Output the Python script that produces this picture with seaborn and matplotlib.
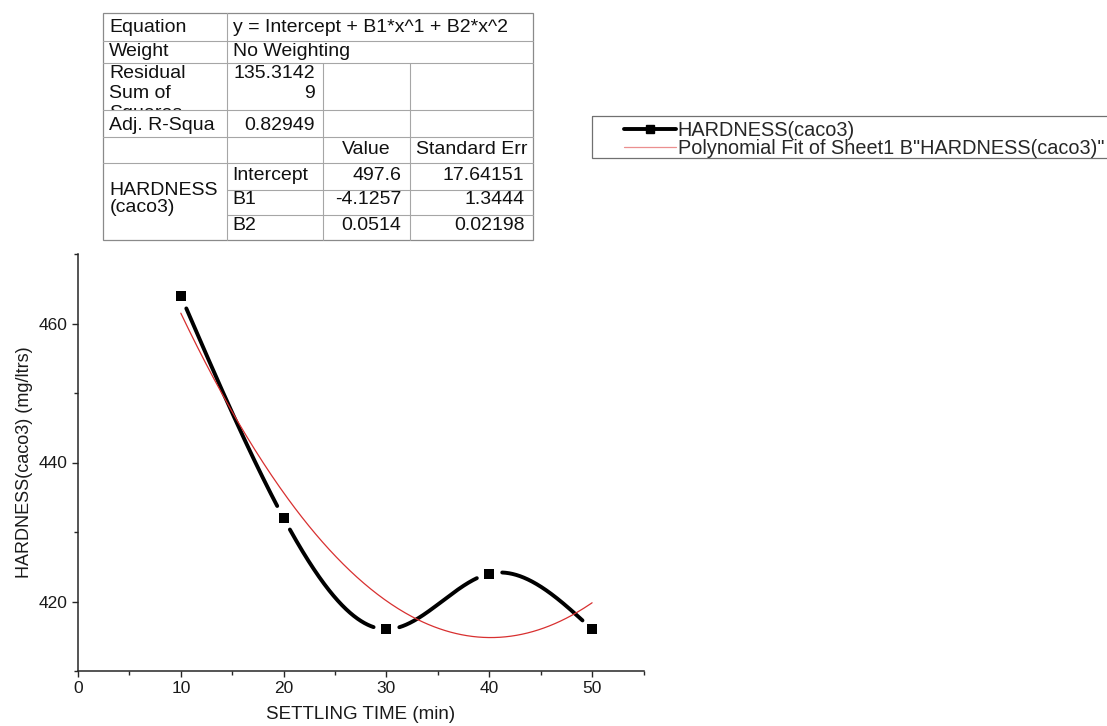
import numpy as np
import pandas as pd
import seaborn as sns
import matplotlib
matplotlib.use("Agg")
import matplotlib.pyplot as plt
from matplotlib.ticker import MultipleLocator
from matplotlib.lines import Line2D
from matplotlib.patches import Rectangle
from matplotlib.transforms import Bbox

# ---- measured data ----
settling_time = [10, 20, 30, 40, 50]
hardness = [464, 432, 416, 424, 416]

# ---- quadratic fit report ----
equation_text = "y = Intercept + B1*x^1 + B2*x^2"
weight_text = "No Weighting"
rss_text = "135.3142\n9"
adj_r2_text = "0.82949"
param_names = ["Intercept", "B1", "B2"]
param_values = [497.6, -4.1257, 0.0514]
param_errors = [17.64151, 1.3444, 0.02198]

series_label = "HARDNESS(caco3)"
fit_label = 'Polynomial Fit of Sheet1 B"HARDNESS(caco3)"'

sns.set_style("ticks")
plt.rcParams["font.family"] = ["Liberation Sans", "DejaVu Sans"]

W, H = 1107, 726
fig = plt.figure(figsize=(W / 100, H / 100), dpi=100)

# main plot area (pixel box 78..643.5 x 254..671)
ax = fig.add_axes([78 / W, (H - 671) / H, 565.5 / W, 417 / H])
ax.set_xlim(0, 55)
ax.set_ylim(410, 470)


def natural_spline(xs, ys, xq):
    xs = np.asarray(xs, float)
    ys = np.asarray(ys, float)
    n = len(xs)
    h = np.diff(xs)
    A = np.zeros((n, n))
    r = np.zeros(n)
    A[0, 0] = A[-1, -1] = 1.0
    for i in range(1, n - 1):
        A[i, i - 1] = h[i - 1]
        A[i, i] = 2 * (h[i - 1] + h[i])
        A[i, i + 1] = h[i]
        r[i] = 6 * ((ys[i + 1] - ys[i]) / h[i] - (ys[i] - ys[i - 1]) / h[i - 1])
    M = np.linalg.solve(A, r)
    idx = np.clip(np.searchsorted(xs, xq) - 1, 0, n - 2)
    x0, x1 = xs[idx], xs[idx + 1]
    hh = x1 - x0
    a = (x1 - xq) / hh
    b = (xq - x0) / hh
    return (a * ys[idx] + b * ys[idx + 1]
            + ((a ** 3 - a) * M[idx] + (b ** 3 - b) * M[idx + 1]) * hh ** 2 / 6)


# smooth connecting curve, broken around each symbol
xq = np.linspace(min(settling_time), max(settling_time), 1200)
yq = natural_spline(settling_time, hardness, xq)
pix = ax.transData.transform(np.column_stack([xq, yq]))
mpix = ax.transData.transform(np.column_stack([settling_time, hardness]))
dist = np.min(np.hypot(pix[:, None, 0] - mpix[None, :, 0],
                       pix[:, None, 1] - mpix[None, :, 1]), axis=1)
keep = dist >= 13
seg = np.cumsum(np.r_[0, np.diff(keep.astype(int)) != 0])
curve = pd.DataFrame({"x": xq[keep], "y": yq[keep], "seg": seg[keep]})

sns.lineplot(data=curve, x="x", y="y", units="seg", estimator=None,
             sort=False, color="black", lw=2.8, ax=ax, legend=False)

points = pd.DataFrame({"x": settling_time, "y": hardness})
sns.scatterplot(data=points, x="x", y="y", marker="s", s=52,
                color="black", edgecolor="none", ax=ax, legend=False, zorder=3)

# fitted polynomial
xf = np.linspace(min(settling_time), max(settling_time), 300)
yf = param_values[0] + param_values[1] * xf + param_values[2] * xf ** 2
sns.lineplot(x=xf, y=yf, color="#d83030", lw=0.9, ax=ax, zorder=4)

# axes styling
sns.despine(ax=ax)
for sp in ("left", "bottom"):
    ax.spines[sp].set_color("#262626")
    ax.spines[sp].set_linewidth(1.1)
ax.xaxis.set_major_locator(MultipleLocator(10))
ax.xaxis.set_minor_locator(MultipleLocator(5))
ax.yaxis.set_major_locator(MultipleLocator(20))
ax.yaxis.set_minor_locator(MultipleLocator(10))
ax.tick_params(which="major", length=4.5, width=1, direction="out",
               color="#262626", labelsize=12.5, labelcolor="#1a1a1a", pad=3)
ax.tick_params(which="minor", length=3, width=1, direction="out", color="#262626")
ax.set_xlabel("SETTLING TIME (min)", fontsize=13.5, color="#1a1a1a")
ax.set_ylabel("HARDNESS(caco3) (mg/ltrs)", fontsize=13, color="#1a1a1a")
ax.xaxis.set_label_coords(0.5, -0.085)
ax.yaxis.set_label_coords(-0.08, 0.5)

# ---- overlay in pixel coordinates for the report table and legend frame ----
ov = fig.add_axes([0, 0, 1, 1])
ov.set_xlim(0, W)
ov.set_ylim(H, 0)
ov.axis("off")

X = [103.3, 226.7, 323.3, 410, 533.3]
Y = [13.3, 40.7, 63.3, 110, 136.7, 163.3, 190, 215, 240]
inner = dict(color="#a6a6a6", lw=0.8)

for y in Y[1:6]:
    ov.plot([X[0], X[4]], [y, y], **inner)
for y in Y[6:8]:
    ov.plot([X[1], X[4]], [y, y], **inner)
ov.plot([X[1], X[1]], [Y[0], Y[8]], **inner)
for x in X[2:4]:
    ov.plot([x, x], [Y[2], Y[8]], **inner)
ov.add_patch(Rectangle((X[0], Y[0]), X[4] - X[0], Y[8] - Y[0],
                       fill=False, edgecolor="#8a8a8a", lw=0.9))

tfs = 14


def cell(x, y, s, ha="left", va="center", clip=None, **kw):
    t = ov.text(x, y, s, ha=ha, va=va, fontsize=tfs, color="#111111", **kw)
    if clip is not None:
        # clip in display pixels (origin at bottom-left)
        x0, y0, x1, y1 = clip
        t.set_clip_box(Bbox.from_extents(x0, H - y1, x1, H - y0))
        t.set_clip_on(True)
    return t


pad_l, pad_r = 6, 9
cell(X[0] + pad_l, 27, "Equation")
cell(X[1] + pad_l, 27, equation_text)
cell(X[0] + pad_l, 52, "Weight")
cell(X[1] + pad_l, 52, weight_text)
cell(X[0] + pad_l, 65.5, "Residual\nSum of\nSquares", va="top", linespacing=1.22,
     clip=(X[0], Y[2], X[1], Y[3]))
cell(X[2] - pad_r + 1, 65.5, rss_text, ha="right", va="top", multialignment="right",
     linespacing=1.22)
cell(X[0] + pad_l, 125, "Adj. R-Squa")
cell(X[2] - pad_r, 125, adj_r2_text, ha="right")
cell((X[2] + X[3]) / 2, 149, "Value", ha="center")
cell((X[3] + X[4]) / 2, 149, "Standard Err", ha="center")
row_y = [175, 200, 225]
for yy, name, val, err in zip(row_y, param_names, param_values, param_errors):
    cell(X[1] + pad_l, yy, name)
    cell(X[3] - pad_r, yy, str(val), ha="right")
    cell(X[4] - pad_r, yy, str(err), ha="right")
cell(X[0] + pad_l, 199, "HARDNESS\n(caco3)", linespacing=0.95)

# legend
ov.add_patch(Rectangle((592, 116), 560, 42, fill=False, edgecolor="#707070", lw=0.9))
handles = [
    Line2D([], [], color="black", lw=2.8, marker="s", markersize=5.5),
    Line2D([], [], color="#eb8f8f", lw=0.9),
]
fig.legend(handles, [series_label, fit_label], loc="upper left",
           bbox_to_anchor=(624 / W, 1 - 121 / H), frameon=False,
           fontsize=14.3, handlelength=2.6, handletextpad=0.1,
           borderpad=0, borderaxespad=0, labelspacing=-0.03)

fig.savefig("out.png", dpi=100)
